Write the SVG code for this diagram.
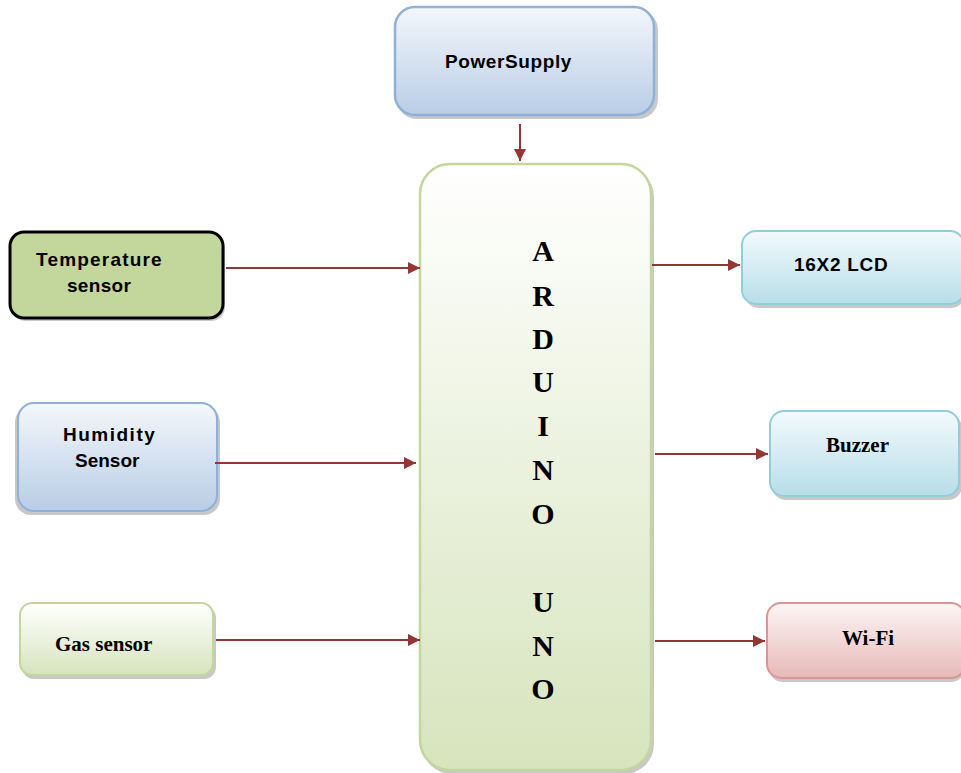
<svg xmlns="http://www.w3.org/2000/svg" width="961" height="773" viewBox="0 0 961 773">
<defs>
<linearGradient id="gBlue" x1="0" y1="0" x2="0" y2="1"><stop offset="0" stop-color="#f4f7fb"/><stop offset="1" stop-color="#b9cde5"/></linearGradient>
<linearGradient id="gGreen" x1="0" y1="0" x2="0" y2="1"><stop offset="0" stop-color="#ffffff"/><stop offset="1" stop-color="#d7e4bd"/></linearGradient>
<linearGradient id="gCyan" x1="0" y1="0" x2="0" y2="1"><stop offset="0" stop-color="#f3fafc"/><stop offset="1" stop-color="#b7dee8"/></linearGradient>
<linearGradient id="gRed" x1="0" y1="0" x2="0" y2="1"><stop offset="0" stop-color="#fdf5f5"/><stop offset="1" stop-color="#e6b9b8"/></linearGradient>
<marker id="ah" viewBox="0 0 10 10" refX="10" refY="5" markerWidth="12" markerHeight="12" markerUnits="userSpaceOnUse" orient="auto"><path d="M0,0 L10,5 L0,10 z" fill="#943634"/></marker>
</defs>
<style>
.shadow{fill:#9a9a9a;opacity:0.55}
.sans{font-family:"Liberation Sans",Arial,sans-serif;font-weight:bold;font-size:19px;fill:#000}
.serif{font-family:"Liberation Serif","Times New Roman",serif;font-weight:bold;font-size:21px;fill:#000}
.big{font-family:"Liberation Serif","Times New Roman",serif;font-weight:bold;font-size:30px;fill:#000;text-anchor:middle}
.conn line{stroke:#943634;stroke-width:2;marker-end:url(#ah)}
</style>
<rect width="961" height="773" fill="#fff"/>

<g id="power">
<rect class="shadow" x="397" y="10" width="261" height="109" rx="20"/>
<rect x="395" y="7" width="259" height="108" rx="20" fill="url(#gBlue)" stroke="#8eb1d8" stroke-width="2.5"/>
<text class="sans" x="445" y="68" letter-spacing="0.6">PowerSupply</text>
</g>

<g id="arduino">
<rect class="shadow" x="422" y="167" width="232" height="607" rx="30"/>
<rect x="420" y="164" width="231" height="606" rx="30" fill="url(#gGreen)" stroke="#c3d69b" stroke-width="2.5"/>
<text class="big" x="543" y="261">A</text>
<text class="big" x="543" y="306">R</text>
<text class="big" x="543" y="349">D</text>
<text class="big" x="543" y="392">U</text>
<text class="big" x="543" y="436">I</text>
<text class="big" x="543" y="480">N</text>
<text class="big" x="543" y="524">O</text>
<text class="big" x="543" y="612">U</text>
<text class="big" x="543" y="656">N</text>
<text class="big" x="543" y="699">O</text>
</g>

<g id="temp">
<rect class="shadow" x="12" y="235" width="213" height="86" rx="14"/>
<rect x="10" y="232" width="213" height="86" rx="14" fill="#c3d69b" stroke="#000" stroke-width="3"/>
<text class="sans" x="36" y="266" letter-spacing="1.2">Temperature</text>
<text class="sans" x="67" y="292" letter-spacing="0.3">sensor</text>
</g>

<g id="humidity">
<rect class="shadow" x="15" y="406" width="205" height="109" rx="16"/>
<rect x="18" y="403" width="199" height="108" rx="16" fill="url(#gBlue)" stroke="#8eb1d8" stroke-width="2"/>
<text class="sans" x="63" y="441" letter-spacing="1.5">Humidity</text>
<text class="sans" x="75" y="467">Sensor</text>
</g>

<g id="gas">
<rect class="shadow" x="22" y="606" width="194" height="73" rx="12"/>
<rect x="20" y="603" width="193" height="72" rx="12" fill="url(#gGreen)" stroke="#c3d69b" stroke-width="2"/>
<text class="serif" x="55" y="651">Gas sensor</text>
</g>

<g id="lcd">
<rect class="shadow" x="745" y="234" width="220" height="74" rx="14"/>
<rect x="742" y="231" width="222" height="73" rx="14" fill="url(#gCyan)" stroke="#92cddc" stroke-width="2"/>
<text class="sans" x="794" y="271" letter-spacing="0.7">16X2 LCD</text>
</g>

<g id="buzzer">
<rect class="shadow" x="772" y="414" width="190" height="86" rx="14"/>
<rect x="770" y="411" width="189" height="85" rx="14" fill="url(#gCyan)" stroke="#92cddc" stroke-width="2"/>
<text class="serif" x="826" y="452">Buzzer</text>
</g>

<g id="wifi">
<rect class="shadow" x="769" y="606" width="196" height="76" rx="14"/>
<rect x="767" y="603" width="198" height="75" rx="14" fill="url(#gRed)" stroke="#d99694" stroke-width="2"/>
<text class="serif" x="842" y="645">Wi-Fi</text>
</g>

<g id="connectors" class="conn">
<line x1="520" y1="124" x2="520" y2="161"/>
<line x1="226" y1="268" x2="420" y2="268"/>
<line x1="215" y1="463" x2="416" y2="463"/>
<line x1="216" y1="640" x2="420" y2="640"/>
<line x1="652" y1="265" x2="740" y2="265"/>
<line x1="655" y1="454" x2="768" y2="454"/>
<line x1="655" y1="641" x2="765" y2="641"/>
</g>
</svg>
